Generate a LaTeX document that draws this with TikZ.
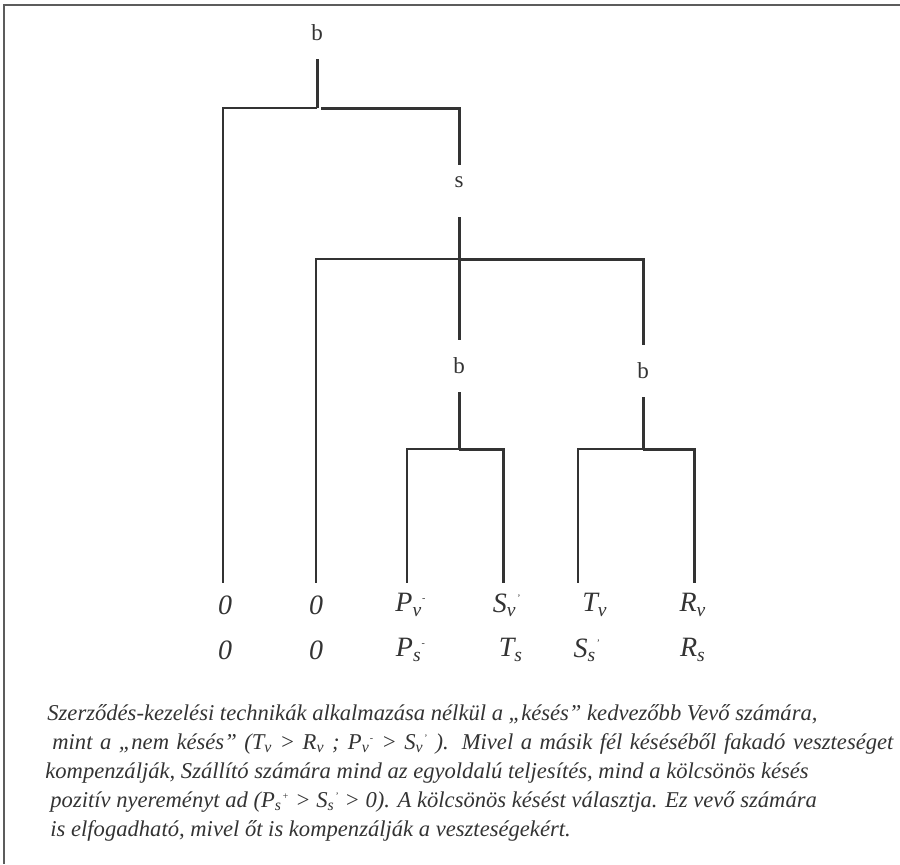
\documentclass[tikz,border=0pt]{standalone}
\usepackage{fontspec}
\setmainfont{Liberation Serif}
\usepackage{tikz}
\usepackage{xcolor}
\usetikzlibrary{positioning}
\definecolor{ink}{HTML}{333333}
\tikzstyle{player}=[inner sep=0pt, minimum width=14pt, minimum height=26pt, text=ink, font=\fontsize{11.5}{13}\selectfont]
\tikzstyle{payoff}=[inner sep=0pt, minimum height=22pt, text=ink, font=\fontsize{14}{16}\selectfont\itshape]
\tikzstyle{weak}=[draw=ink, line width=0.7pt]
\tikzstyle{strong}=[draw=ink, line width=1.5pt]
\tikzstyle{caption}=[inner sep=0pt, anchor=base west, text=ink, font=\fontsize{11.3}{13}\selectfont\itshape]
\newcommand{\lo}[1]{\textsubscript{#1}}
\newcommand{\hi}[1]{\textsuperscript{\tiny #1}}

\begin{document}
\begin{tikzpicture}[x=0.5pt, y=-0.5pt]
    \useasboundingbox (0,0) rectangle (900,864);
    \draw[ink!80, line width=0.9pt] (900,5) -- (4,5) -- (4,864);

    % players and junctions
    \node[player]                (root) at (317,33)  {b};
    \node[player, text depth=9pt] (sel) at (459,191) {s};
    \node[player]                (bl)   at (459,366) {b};
    \node[player]                (br)   at (643,371) {b};
    \coordinate (rj)  at (317,108);
    \coordinate (sj)  at (459,259);
    \coordinate (blj) at (459,449);
    \coordinate (brj) at (643,449);

    % leaf ends
    \coordinate (leaf1) at (223,583);
    \coordinate (leaf2) at (316,583);
    \coordinate (leaf3) at (407,583);
    \coordinate (leaf4) at (503,583);
    \coordinate (leaf5) at (578,583);
    \coordinate (leaf6) at (694,583);

    % payoffs
    \node[payoff] (o1) at (225,605) {0};
    \node[payoff] (o2) at (316,605) {0};
    \node[payoff] (pv) at (411,605) {P\lo{v}\hi{-}};
    \node[payoff] (sv) at (507,605) {S\lo{v}\hi{'}};
    \node[payoff] (tv) at (595,605) {T\lo{v}};
    \node[payoff] (rv) at (693,605) {R\lo{v}};
    \node[payoff] (q1) at (225,650) {0};
    \node[payoff] (q2) at (316,650) {0};
    \node[payoff] (ps) at (411,650) {P\lo{s}\hi{-}};
    \node[payoff] (ts) at (511,650) {T\lo{s}};
    \node[payoff] (ss) at (587,650) {S\lo{s}\hi{'}};
    \node[payoff] (rs) at (693,650) {R\lo{s}};

    \draw[strong] (root) -- (rj);
    \draw[weak]   (rj)  -| (leaf1);
    \draw[strong] ([xshift=2pt]rj) -| (sel);
    \draw[strong] (sel) -- (sj);
    \draw[weak]   (sj)  -| (leaf2);
    \draw[strong] (sj)  -| (br);
    \draw[strong] (sj)  -- (bl);
    \draw[strong] (bl)  -- (blj);
    \draw[weak]   (blj) -| (leaf3);
    \draw[strong] (blj) -| (leaf4);
    \draw[strong] (br)  -- (brj);
    \draw[weak]   (brj) -| (leaf5);
    \draw[strong] (brj) -| (leaf6);

    % caption
    \node[caption] (cap1) at (47,720) {Szerződés-kezelési technikák alkalmazása nélkül a „késés” kedvezőbb Vevő számára,};
    \node[caption] (cap2) at (52,749) {\makebox[420.5pt][s]{mint a „nem késés” (T\lo{v} > R\lo{v} ; P\lo{v}\hi{-} > S\lo{v}\hi{'} ). Mivel a másik fél késéséből fakadó veszteséget}};
    \node[caption] (cap3) at (45,778) {kompenzálják, Szállító számára mind az egyoldalú teljesítés, mind a kölcsönös késés};
    \node[caption] (cap4) at (50,807) {pozitív nyereményt ad (P\lo{s}\hi{+} > S\lo{s}\hi{'} > 0). A kölcsönös késést választja. Ez vevő számára};
    \node[caption] (cap5) at (50,836) {is elfogadható, mivel őt is kompenzálják a veszteségekért.};
  \end{tikzpicture}
\end{document}
